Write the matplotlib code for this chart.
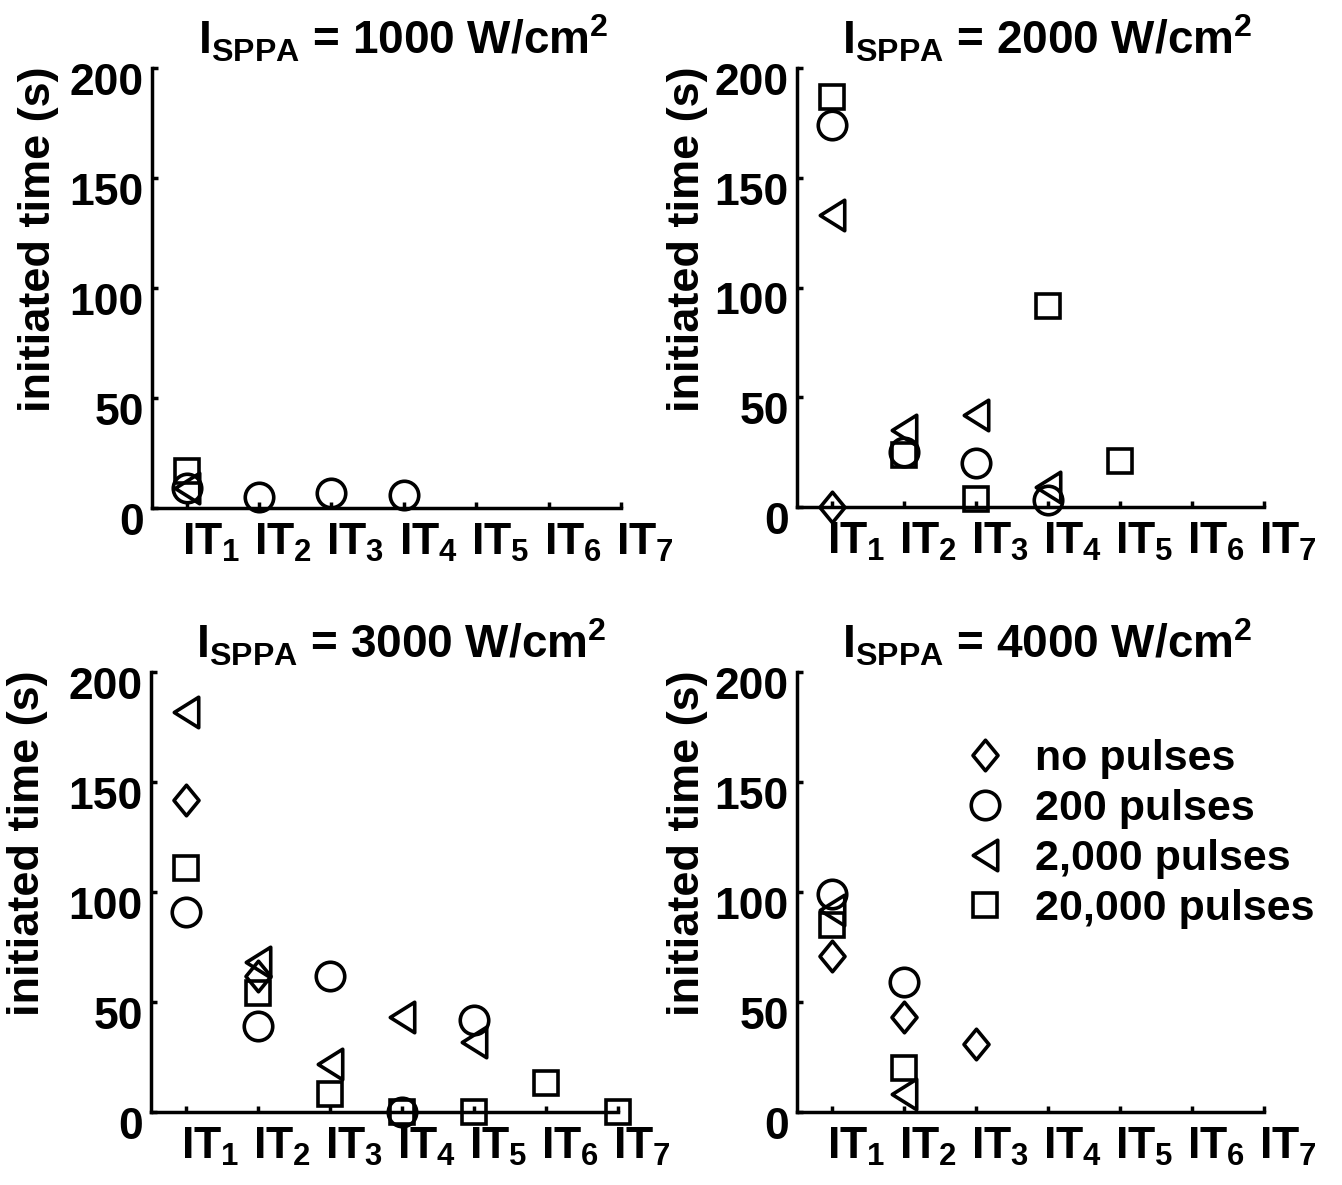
import numpy as np
import matplotlib
matplotlib.use("Agg")
import matplotlib.pyplot as plt
from matplotlib.path import Path
from matplotlib.transforms import ScaledTranslation

plt.rcParams["font.family"] = ["Liberation Sans", "DejaVu Sans"]
plt.rcParams["font.weight"] = "bold"
plt.rcParams["mathtext.fontset"] = "custom"
plt.rcParams["mathtext.rm"] = "Liberation Sans:bold"
plt.rcParams["mathtext.it"] = "Liberation Sans:bold"
plt.rcParams["mathtext.bf"] = "Liberation Sans:bold"
plt.rcParams["mathtext.default"] = "rm"

nan = np.nan

# categories
it_positions = np.arange(1, 8)
it_labels = [rf"$IT_{k}$" for k in it_positions]
intensities = [1000, 2000, 3000, 4000]
series_labels = ["no pulses", "200 pulses", "2,000 pulses", "20,000 pulses"]

# initiated time (s) per IT stage, I_SPPA = 1000 W/cm^2
none_1000 = [nan, nan, nan, nan, nan, nan, nan]
p200_1000 = [9, 5, 7, 6, nan, nan, nan]
p2000_1000 = [9, nan, nan, nan, nan, nan, nan]
p20000_1000 = [17, nan, nan, nan, nan, nan, nan]

# I_SPPA = 2000 W/cm^2
none_2000 = [0, nan, nan, nan, nan, nan, nan]
p200_2000 = [174, 25, 20, 3, nan, nan, nan]
p2000_2000 = [133, 35, 42, 9, nan, nan, nan]
p20000_2000 = [187, 23.5, 3.5, 91.5, 21, nan, nan]

# I_SPPA = 3000 W/cm^2
none_3000 = [142, 62, nan, nan, nan, nan, nan]
p200_3000 = [91, 39, 62, 0, 42, nan, nan]
p2000_3000 = [182, 68, 22, 43, 32, nan, nan]
p20000_3000 = [111, 54, 8, 0, 0, 13, 0]

# I_SPPA = 4000 W/cm^2
none_4000 = [71, 43, 31, nan, nan, nan, nan]
p200_4000 = [99, 59, nan, nan, nan, nan, nan]
p2000_4000 = [92, 8, nan, nan, nan, nan, nan]
p20000_4000 = [85, 20, nan, nan, nan, nan, nan]

panels = [
    (1000, [none_1000, p200_1000, p2000_1000, p20000_1000]),
    (2000, [none_2000, p200_2000, p2000_2000, p20000_2000]),
    (3000, [none_3000, p200_3000, p2000_3000, p20000_3000]),
    (4000, [none_4000, p200_4000, p2000_4000, p20000_4000]),
]

# marker shapes
diamond = Path([(0, 1), (0.82, 0), (0, -1), (-0.82, 0), (0, 0)], closed=True)
tri_left = Path([(-0.8, 0), (0.8, 1), (0.8, -1), (0, 0)], closed=True)
marker_styles = [
    dict(marker=diamond, markersize=22),
    dict(marker="o", markersize=20.5),
    dict(marker=tri_left, markersize=22),
    dict(marker="s", markersize=17),
]

W, H = 1342, 1185
fig = plt.figure(figsize=(W / 100, H / 100), dpi=100)

# axes rectangles in pixels: left, top, right, bottom
rects_px = [
    (152, 68, 621, 508),
    (797, 68, 1264, 507),
    (151, 672, 618, 1112),
    (797, 672, 1264, 1112),
]
ylabel_x = [-0.241, -0.235, -0.264, -0.235]

axes = []
for i, ((inten, series), (l, t, r, b)) in enumerate(zip(panels, rects_px)):
    ax = fig.add_axes([l / W, 1 - b / H, (r - l) / W, (b - t) / H])
    axes.append(ax)
    for vals, st, lab in zip(series, marker_styles, series_labels):
        ax.plot(it_positions, vals, linestyle="none", color="black",
                markerfacecolor="none", markeredgecolor="black",
                markeredgewidth=2.6, clip_on=False, label=lab, **st)
    ax.set_xlim(0.52, 7.0)
    ax.set_ylim(0, 200)
    ax.set_xticks(it_positions)
    ax.set_xticklabels(it_labels)
    ax.set_yticks([0, 50, 100, 150, 200])
    for side in ["top", "right"]:
        ax.spines[side].set_visible(False)
    for side in ["left", "bottom"]:
        ax.spines[side].set_linewidth(2.5)
    ax.tick_params(direction="in", length=4, width=2.5, labelsize=32)
    ax.tick_params(axis="x", pad=10)
    ax.tick_params(axis="y", pad=6)
    dx = ScaledTranslation(-5 / 100, 0, fig.dpi_scale_trans)
    for lab in ax.get_xticklabels():
        lab.set_horizontalalignment("left")
        lab.set_transform(lab.get_transform() + dx)
    dy = ScaledTranslation(0, -11 / 100, fig.dpi_scale_trans)
    for lab in ax.get_yticklabels():
        lab.set_transform(lab.get_transform() + dy)
    ax.set_title(rf"$I_{{SPPA}}$ = {inten} W/cm$^{{2}}$", fontsize=33,
                 fontweight="bold", x=0.535, pad=10)
    ax.set_ylabel("initiated time (s)", fontsize=32.5, fontweight="bold",
                  va="center")
    ax.yaxis.set_label_coords(ylabel_x[i], 0.61)

leg = axes[3].legend(loc="center left", bbox_to_anchor=(966 / W, 1 - 834 / H),
                     bbox_transform=fig.transFigure, frameon=False,
                     fontsize=31, handlelength=0.9, handletextpad=0.7,
                     labelspacing=0.23, borderpad=0, borderaxespad=0)

fig.savefig("out.png", dpi=100, facecolor="white")
